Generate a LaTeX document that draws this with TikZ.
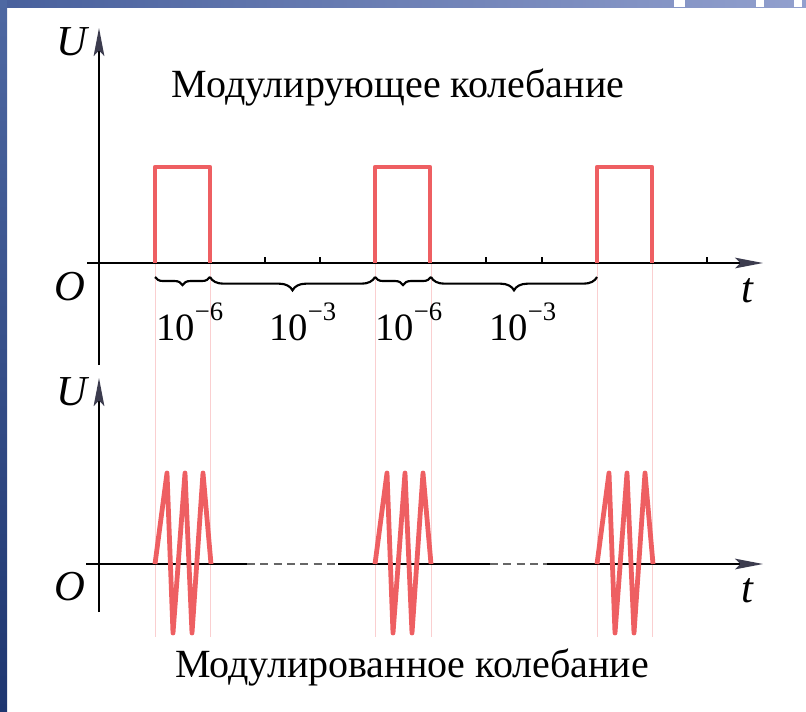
\documentclass[tikz,border=0pt]{standalone}
\usepackage{fontspec}
\setmainfont{Liberation Serif}
\usepackage{tikz}
\usetikzlibrary{arrows.meta,decorations.pathreplacing,positioning,calc}

\definecolor{sig}{RGB}{238,95,98}
\definecolor{tipgray}{RGB}{60,60,78}
\definecolor{barleft}{RGB}{72,96,156}
\definecolor{barright}{RGB}{146,160,206}
\definecolor{sidetop}{RGB}{78,104,162}
\definecolor{sidebot}{RGB}{30,54,112}

\begin{document}
\begin{tikzpicture}[
    x=0.75pt, y=-0.75pt,
    >={Stealth[length=21pt, width=8pt, inset=4pt, color=tipgray]},
    axis/.style={line width=1.5pt, black},
    tick/.style={line width=1pt, black},
    gap/.style={line width=1.5pt, black!60, dash pattern=on 6pt off 4pt},
    pulse/.style={line width=3.6pt, sig, line join=round},
    guide/.style={line width=0.6pt, sig!30},
    axlbl/.style={font=\fontsize{32}{32}\selectfont\itshape, anchor=base, inner sep=0pt},
    title/.style={font=\fontsize{30}{30}\selectfont, anchor=base, inner sep=0pt},
    power/.style={font=\fontsize{29}{29}\selectfont, anchor=base west, inner sep=0pt},
    brc/.style={decorate, decoration={brace, amplitude=#1}, line width=1.6pt}
]
    \useasboundingbox (0,0) rectangle (806,711);
    % frame of the slide
    \shade[left color=barleft, right color=barright] (0,0) rectangle (806,7);
    \shade[top color=sidetop, bottom color=sidebot] (0,0) rectangle (7,711);
    \foreach \a/\b in {674/685, 756/764, 794/802}
        \fill[white] (\a,0) rectangle (\b,7);
    \coordinate (o1) at (99,263);
    \coordinate (o2) at (99,564);
    % guide lines through both plots
    \foreach \x in {155,210,375,431,597,652}
        \draw[guide] (\x,263) -- (\x,637);
    % modulating signal
    \draw[axis, ->] (99,365) -- (99,28);
    \draw[axis, ->] (87,263) -- (763,263);
    \foreach \x in {265,320,486,542,707}
        \draw[tick] (\x,263) -- (\x,257);
    \foreach \s in {155,375,597}
        \draw[pulse] (\s,263) -- (\s,167) -- (\s+55,167) -- (\s+55,263);
    \node[axlbl] (u1) at (72,55) {U};
    \node[axlbl] (z1) at (70,300) {O};
    \node[axlbl] (t1) at (747,302) {t};
    \node[title] (top) at (398,97) {Модулирующее колебание};
    % braces and durations
    \draw[brc=6pt] (210,277) -- (155,277);
    \draw[brc=10pt] (375,277) -- (210,277);
    \draw[brc=6pt] (431,277) -- (375,277);
    \draw[brc=10pt] (597,277) -- (431,277);
    \node[power] (d1) at (156,340) {10\raisebox{0.5em}{\fontsize{20}{20}\selectfont −6}};
    \node[power] (d2) at (269,340) {10\raisebox{0.5em}{\fontsize{20}{20}\selectfont −3}};
    \node[power] (d3) at (375,340) {10\raisebox{0.5em}{\fontsize{20}{20}\selectfont −6}};
    \node[power] (d4) at (489,340) {10\raisebox{0.5em}{\fontsize{20}{20}\selectfont −3}};
    % modulated signal
    \draw[axis, ->] (99,612) -- (99,378);
    \draw[axis] (86,564) -- (247,564);
    \draw[gap] (247,564) -- (338,564);
    \draw[axis] (338,564) -- (490,564);
    \draw[gap] (490,564) -- (547,564);
    \draw[axis, ->] (547,564) -- (763,564);
    \foreach \s in {155,375,597}
        \draw[pulse] (\s,564) -- ++(12,-91) -- ++(6,160) -- ++(12,-160)
            -- ++(7,160) -- ++(11,-160) -- ++(8,91);
    \node[axlbl] (u2) at (72,405) {U};
    \node[axlbl] (z2) at (70,600) {O};
    \node[axlbl] (t2) at (747,602) {t};
    \node[title] (bottom) at (412,677) {Модулированное колебание};
\end{tikzpicture}
\end{document}
